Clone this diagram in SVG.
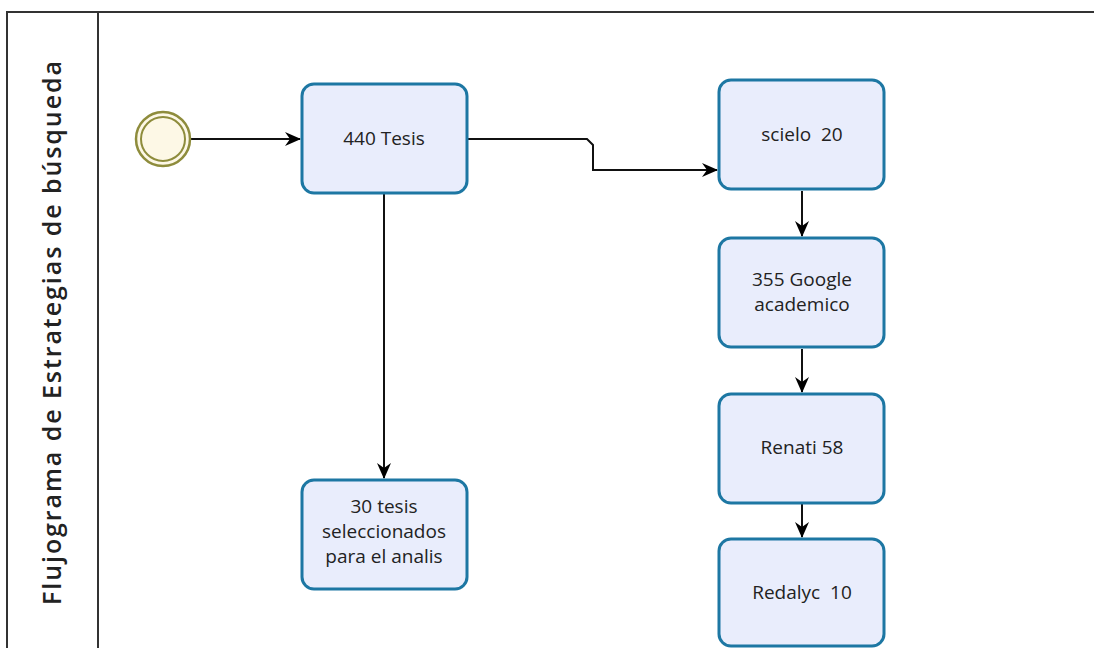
<svg xmlns="http://www.w3.org/2000/svg" width="1094" height="648" viewBox="0 0 1094 648">
<defs>
<marker id="arr" viewBox="0 0 16 16" refX="15" refY="8" markerWidth="16" markerHeight="16" markerUnits="userSpaceOnUse" orient="auto">
<path d="M0,1 L16,8 L0,15 L5,8 Z" fill="#000"/>
</marker>
</defs>
<style>
.task{fill:#e9edfc;stroke:#1d77a3;stroke-width:3}
.lbl{font-family:"Open Sans","Noto Sans",sans-serif;font-size:19px;fill:#222;text-anchor:middle}
.conn{fill:none;stroke:#111;stroke-width:2}
.pool{fill:none;stroke:#333;stroke-width:2}
</style>
<rect width="1094" height="648" fill="#fff"/>
<g id="pool">
<path class="pool" d="M7,660 L7,12 L1100,12"/>
<line class="pool" x1="98" y1="12" x2="98" y2="660"/>
<text transform="translate(61,333) rotate(-90)" text-anchor="middle" font-family="'Open Sans','Noto Sans',sans-serif" font-weight="600" font-size="25" fill="#222" textLength="544" lengthAdjust="spacing">Flujograma de Estrategias de búsqueda</text>
</g>
<g id="connectors">
<line class="conn" x1="191" y1="139" x2="300" y2="139" marker-end="url(#arr)"/>
<polyline class="conn" points="468,139 587,139 593,145 593,170 717,170" marker-end="url(#arr)"/>
<line class="conn" x1="384" y1="194" x2="384" y2="478" marker-end="url(#arr)"/>
<line class="conn" x1="802" y1="191" x2="802" y2="236" marker-end="url(#arr)"/>
<line class="conn" x1="802" y1="349" x2="802" y2="392" marker-end="url(#arr)"/>
<line class="conn" x1="802" y1="504" x2="802" y2="537" marker-end="url(#arr)"/>
</g>
<g id="start">
<circle cx="163" cy="139" r="27" fill="#fdf8e6" stroke="#8e8c3c" stroke-width="2.5"/>
<circle cx="163" cy="139" r="22" fill="none" stroke="#8e8c3c" stroke-width="2"/>
</g>
<g id="tesis440">
<rect class="task" x="302" y="84" width="165" height="109" rx="12"/>
<text class="lbl" x="384" y="145">440 Tesis</text>
</g>
<g id="tesis30">
<rect class="task" x="302" y="480" width="165" height="109" rx="12"/>
<text class="lbl" x="384" y="513">30 tesis</text>
<text class="lbl" x="384" y="538">seleccionados</text>
<text class="lbl" x="384" y="563">para el analis</text>
</g>
<g id="scielo">
<rect class="task" x="719" y="80" width="165" height="109" rx="12"/>
<text class="lbl" x="802" y="141" xml:space="preserve">scielo  20</text>
</g>
<g id="google">
<rect class="task" x="719" y="238" width="165" height="109" rx="12"/>
<text class="lbl" x="802" y="286">355 Google</text>
<text class="lbl" x="802" y="311">academico</text>
</g>
<g id="renati">
<rect class="task" x="719" y="394" width="165" height="109" rx="12"/>
<text class="lbl" x="802" y="454">Renati 58</text>
</g>
<g id="redalyc">
<rect class="task" x="719" y="539" width="165" height="107" rx="12"/>
<text class="lbl" x="802" y="599" xml:space="preserve">Redalyc  10</text>
</g>
</svg>
